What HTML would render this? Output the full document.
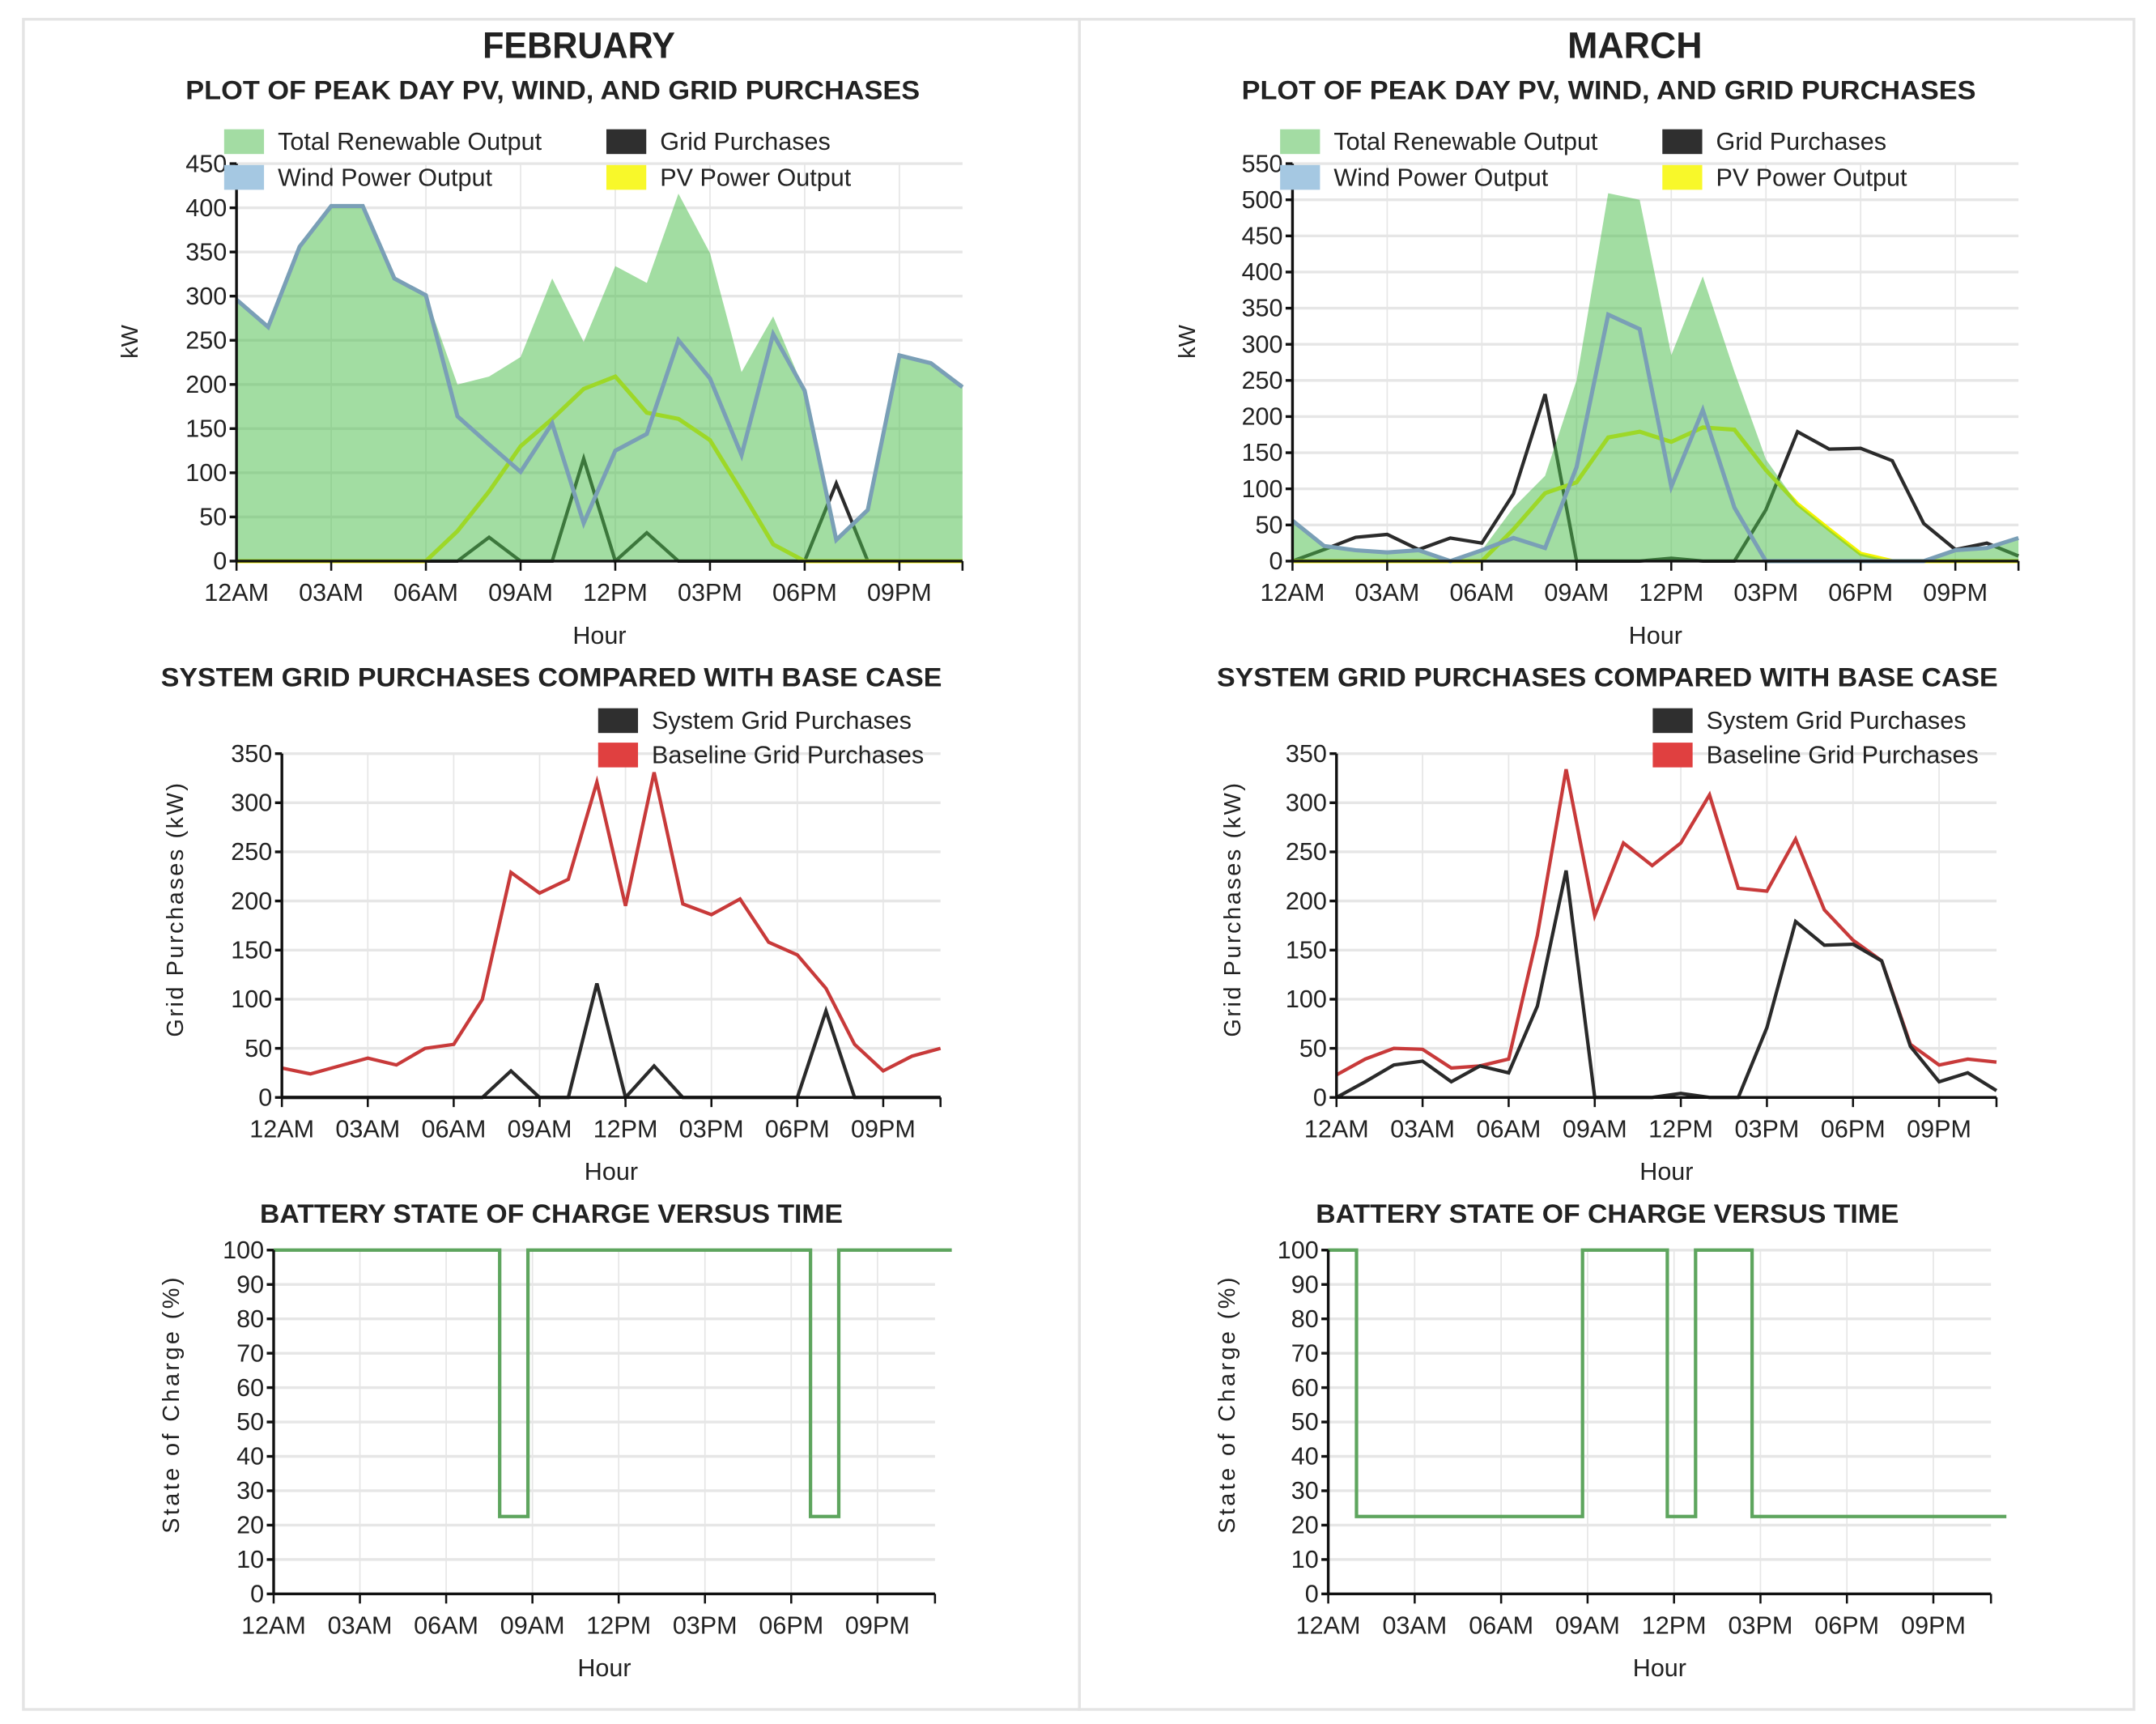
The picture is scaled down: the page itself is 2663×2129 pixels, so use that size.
<!DOCTYPE html>
<html><head><meta charset="utf-8">
<style>
html,body{margin:0;padding:0;background:#fff;}
svg{display:block;}
text{font-family:"Liberation Sans Narrow","Liberation Sans",sans-serif;fill:#222;}
.ttl{font-family:"Liberation Sans",sans-serif;font-weight:bold;}
</style></head>
<body>
<svg id="root" width="2663" height="2129" viewBox="0 0 1568 1253.6" xmlns="http://www.w3.org/2000/svg">
<rect x="17" y="14" width="768" height="1229" fill="none" stroke="#e4e4e4" stroke-width="2"/>
<rect x="785" y="14" width="767" height="1229" fill="none" stroke="#e4e4e4" stroke-width="2"/>
<text class="ttl" x="421" y="42" font-size="27" text-anchor="middle" textLength="140" lengthAdjust="spacingAndGlyphs">FEBRUARY</text>
<text class="ttl" x="1189" y="42" font-size="27" text-anchor="middle" textLength="98" lengthAdjust="spacingAndGlyphs">MARCH</text>
<g id="charts"></g>
</svg>
<script>
// ---- data ----
const hours = [0,1,2,3,4,5,6,7,8,9,10,11,12,13,14,15,16,17,18,19,20,21,22,23];
const xTickHours = [0,3,6,9,12,15,18,21];
const xTickLabels = ["12AM","03AM","06AM","09AM","12PM","03PM","06PM","09PM"];

const febTotal = [296,265,356,402,402,320,301,200,209,231,320,248,334,315,416,349,214,277,193,24,58,233,224,197];
const febWind  = [296,265,356,402,402,320,301,164,132,101,156,43,125,144,250,207,120,257,193,24,58,233,224,197];
const febPV    = [0,0,0,0,0,0,0,34,79,130,161,195,209,168,161,137,79,19,0,0,0,0,0,0];
const febGrid  = [0,0,0,0,0,0,0,0,27,0,0,116,0,32,0,0,0,0,0,88,0,0,0,0];
const febBaseline = [30,24,32,40,33,50,54,100,229,208,222,321,195,331,197,186,202,158,145,111,54,27,42,50];
const febSOC = [100,100,100,100,100,100,100,100,22.5,100,100,100,100,100,100,100,100,100,100,22.5,100,100,100,100];

const marTotal = [56,21,15,12,15,0,15,74,118,250,509,500,285,394,262,141,79,44,10,0,0,15,18,32];
const marWind  = [56,21,15,12,15,0,15,32,18,130,341,321,103,209,74,0,0,0,0,0,0,15,18,32];
const marPV    = [0,0,0,0,0,0,0,44,94,109,171,179,165,185,182,126,79,44,10,0,0,0,0,0];
const marGrid  = [0,16,33,37,16,32,25,93,231,0,0,0,4,0,0,71,179,155,156,139,52,16,25,7];
const marBaseline = [23,39,50,49,30,32,39,165,334,185,259,236,259,308,213,210,263,191,160,139,54,33,39,36];
const marSOC = [100,22.5,22.5,22.5,22.5,22.5,22.5,22.5,22.5,100,100,100,22.5,100,100,22.5,22.5,22.5,22.5,22.5,22.5,22.5,22.5,22.5];

const topTicksFeb = [0,50,100,150,200,250,300,350,400,450];
const topTicksMar = [0,50,100,150,200,250,300,350,400,450,500,550];
const midTicks = [0,50,100,150,200,250,300,350];
const socTicks = [0,10,20,30,40,50,60,70,80,90,100];

// ---- drawing ----
const NS = "http://www.w3.org/2000/svg";
const root = document.getElementById('charts');
function mk(tag, attrs, parent){
  const e = document.createElementNS(NS, tag);
  for (const k in attrs) e.setAttribute(k, attrs[k]);
  (parent||root).appendChild(e);
  return e;
}
function txt(s, attrs, parent){ const t = mk('text', attrs, parent); t.textContent = s; return t; }

function makeAxes(g, c){
  const xs = h => c.x0 + h*(c.x1-c.x0)/23;
  const ys = v => c.y0 - v*(c.y0-c.yTop)/c.ymax;
  c.yTicks.forEach(v=>{
    const l = mk('line',{x1:c.x0,x2:c.gridEnd,y1:ys(v),y2:ys(v),stroke:'#e6e6e6','stroke-width':2},g);
    
    
  });
  xTickHours.forEach(h=>{
    const l = mk('line',{x1:xs(h),x2:xs(h),y1:c.y0,y2:c.yTop,stroke:'#e6e6e6','stroke-width':1},g);
    
    
  });
  return {xs, ys};
}
function drawAxisLines(g, c, xs, ys){
  const ax = mk('line',{x1:c.x0,x2:c.x0,y1:c.y0,y2:c.yTop,stroke:'#111','stroke-width':2},g);
  
  
  const bx = mk('line',{x1:c.x0,x2:c.x1,y1:c.y0,y2:c.y0,stroke:'#111','stroke-width':2},g);
  
  
  c.yTicks.forEach(v=>{
    mk('line',{x1:c.x0-5,x2:c.x0,y1:ys(v),y2:ys(v),stroke:'#111','stroke-width':2},g);
    const t = txt(String(v),{x:c.x0-7,y:ys(v)+6,'font-size':18,'text-anchor':'end'},g);
    
    
  });
  xTickHours.concat([23]).forEach(h=>{
    mk('line',{x1:xs(h),x2:xs(h),y1:c.y0,y2:c.y0+7,stroke:'#111','stroke-width':1.5},g);
  });
  xTickHours.forEach((h,i)=>{
    const t = txt(xTickLabels[i],{x:xs(h),y:c.y0+29,'font-size':18,'text-anchor':'middle'},g);
    
    
  });
  const hl = txt('Hour',{x:(c.x0+c.x1)/2,y:c.y0+60,'font-size':18,'text-anchor':'middle'},g);
  
  
  const yl = txt(c.yLabel,{x:0,y:0,'font-size':17,'text-anchor':'middle','letter-spacing':c.ls||0,transform:`translate(${c.ylx},${(c.y0+c.yTop)/2 + (c.yloff||0)}) rotate(-90)`},g);
  
  
}
function linePath(vals, xs, ys){ return vals.map((v,i)=>(i?'L':'M')+xs(hours[i]).toFixed(1)+','+ys(v).toFixed(1)).join(''); }
function legendItem(g, x, y, color, label, name){
  const r = mk('rect',{x:x,y:y,width:29,height:18,fill:color},g);
  
  
  const t = txt(label,{x:x+39,y:y+15,'font-size':18},g);
  
  
}

function topChart(name, cx, c, total, wind, pv, grid){
  const g = mk('g',{});
  
  
  const st = txt('PLOT OF PEAK DAY PV, WIND, AND GRID PURCHASES',{x:cx,y:72,'font-size':19,'text-anchor':'middle','class':'ttl',textLength:534,lengthAdjust:'spacingAndGlyphs'},g);
  
  
  const {xs, ys} = makeAxes(g, c);
  const gp = mk('path',{d:linePath(grid,xs,ys),fill:'none',stroke:'#2b2b2b','stroke-width':2.5},g);
  
  
  const pp = mk('path',{d:linePath(pv,xs,ys),fill:'none',stroke:'#f4f400','stroke-width':3},g);
  
  
  const area = mk('path',{d:linePath(total,xs,ys)+`L${xs(23)},${ys(0)}L${xs(0)},${ys(0)}Z`,fill:'#4cbd4c','fill-opacity':0.52},g);
  
  
  const wp = mk('path',{d:linePath(wind,xs,ys),fill:'none',stroke:'#7a9fb6','stroke-width':3},g);
  
  
  drawAxisLines(g, c, xs, ys);
  const lx = c.x0-9;
  legendItem(g, lx, 94, '#a3dca3', 'Total Renewable Output', 'legend-total-renewable');
  legendItem(g, lx+278, 94, '#2f2f2f', 'Grid Purchases', 'legend-grid-purchases');
  legendItem(g, lx, 120, '#a5c8e2', 'Wind Power Output', 'legend-wind');
  legendItem(g, lx+278, 120, '#f8f82a', 'PV Power Output', 'legend-pv');
}

function midChart(name, cx, c, sys, base){
  const g = mk('g',{});
  
  
  const st = txt('SYSTEM GRID PURCHASES COMPARED WITH BASE CASE',{x:cx,y:499,'font-size':19,'text-anchor':'middle','class':'ttl',textLength:568,lengthAdjust:'spacingAndGlyphs'},g);
  
  
  const {xs, ys} = makeAxes(g, c);
  const bp = mk('path',{d:linePath(base,xs,ys),fill:'none',stroke:'#c83a3a','stroke-width':2.5},g);
  
  
  const sp = mk('path',{d:linePath(sys,xs,ys),fill:'none',stroke:'#2a2a2a','stroke-width':2.5},g);
  
  
  drawAxisLines(g, c, xs, ys);
  legendItem(g, c.x0+230, 515, '#2f2f2f', 'System Grid Purchases', 'legend-system-grid');
  legendItem(g, c.x0+230, 540, '#e04040', 'Baseline Grid Purchases', 'legend-baseline-grid');
}

function socChart(name, cx, c, soc){
  const g = mk('g',{});
  
  
  const st = txt('BATTERY STATE OF CHARGE VERSUS TIME',{x:cx,y:889,'font-size':19,'text-anchor':'middle','class':'ttl',textLength:424,lengthAdjust:'spacingAndGlyphs'},g);
  
  
  const {xs, ys} = makeAxes(g, c);
  const sx = h => c.x0 + h*20.55;
  let d = `M${sx(0)},${ys(soc[0])}`;
  for (let i=1;i<soc.length;i++){ d += `L${sx(i)},${ys(soc[i-1])}L${sx(i)},${ys(soc[i])}`; }
  d += `L${sx(24)},${ys(soc[soc.length-1])}`;
  const p = mk('path',{d:d,fill:'none',stroke:'#5ea55e','stroke-width':2.5},g);
  
  
  drawAxisLines(g, c, xs, ys);
}

topChart('feb-pv-wind-grid-chart', 402, {x0:172,x1:700,gridEnd:700,y0:408,yTop:119,ymax:450,yTicks:topTicksFeb,yLabel:'kW',ylx:100,yloff:-15}, febTotal, febWind, febPV, febGrid);
topChart('mar-pv-wind-grid-chart', 1170, {x0:940,x1:1468,gridEnd:1468,y0:408,yTop:119,ymax:550,yTicks:topTicksMar,yLabel:'kW',ylx:869,yloff:-15}, marTotal, marWind, marPV, marGrid);
midChart('feb-grid-comparison-chart', 401, {x0:205,x1:684,gridEnd:684,y0:798,yTop:548,ymax:350,yTicks:midTicks,yLabel:'Grid Purchases (kW)',ylx:133,ls:1.5,yloff:-12}, febGrid, febBaseline);
midChart('mar-grid-comparison-chart', 1169, {x0:972,x1:1452,gridEnd:1452,y0:798,yTop:548,ymax:350,yTicks:midTicks,yLabel:'Grid Purchases (kW)',ylx:902,ls:1.5,yloff:-12}, marGrid, marBaseline);
socChart('feb-battery-soc-chart', 401, {x0:199,x1:680,gridEnd:680,y0:1159,yTop:909,ymax:100,yTicks:socTicks,yLabel:'State of Charge (%)',ylx:130,ls:2,yloff:-13}, febSOC);
socChart('mar-battery-soc-chart', 1169, {x0:966,x1:1448,gridEnd:1448,y0:1159,yTop:909,ymax:100,yTicks:socTicks,yLabel:'State of Charge (%)',ylx:898,ls:2,yloff:-13}, marSOC);
</script>
</body></html>
